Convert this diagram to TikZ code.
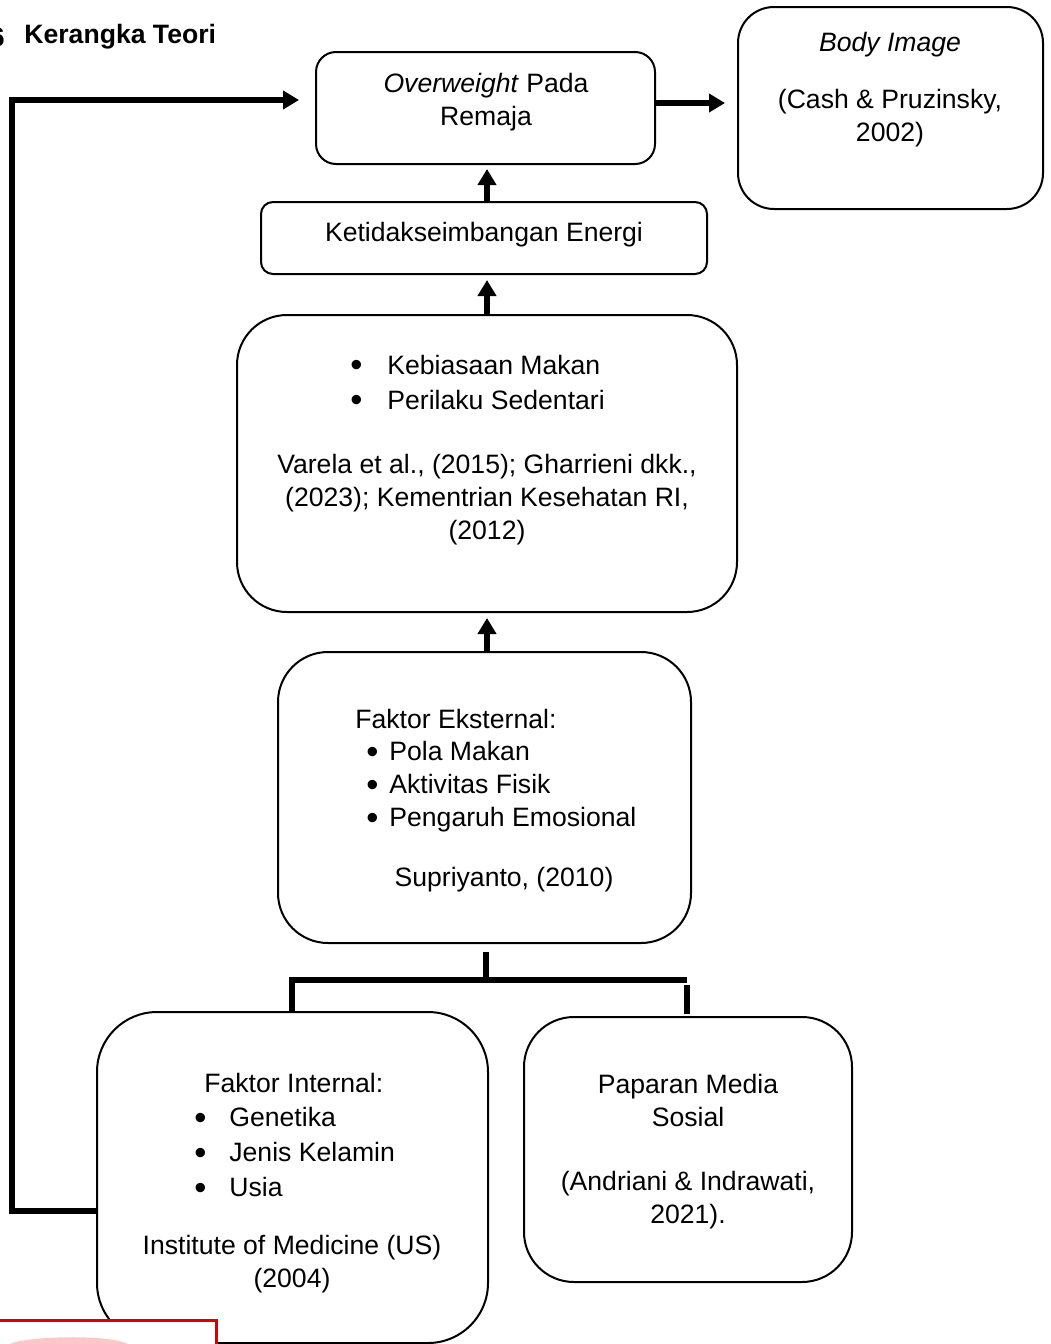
\documentclass[tikz,border=0pt]{standalone}
\usepackage{fontspec}
\setmainfont{Liberation Sans}
\usetikzlibrary{arrows.meta}

\newcommand{\blt}[1]{\makebox[#1][l]{\smash{\raisebox{-0.1em}{\scalebox{1.3}{\textbullet}}}}}

\begin{document}
\begin{tikzpicture}[x=0.5pt,y=0.5pt,yscale=-1,xscale=1,
  font=\fontsize{13.3}{16.5}\selectfont,
  box/.style={draw, line width=1pt, inner sep=0pt},
  conn/.style={line width=3pt, -{Triangle[length=8pt,width=9pt]}},
  link/.style={line width=3pt},
  txt/.style={align=center, inner sep=0pt},
  lst/.style={align=left, anchor=west, inner sep=0pt, font=\fontsize{13.3}{17.5}\selectfont}]
\useasboundingbox (0,0) rectangle (1050,1344);

% Heading
\node[anchor=east, inner sep=0pt, font=\fontsize{13.3}{16.5}\selectfont\bfseries] (num) at (5,37) {6};
\node[anchor=west, inner sep=0pt, font=\fontsize{13.3}{16.5}\selectfont\bfseries] (title) at (24,37) {Kerangka Teori};

%Rounded boxes
\node[box, rounded corners=10pt, minimum width=169.5pt, minimum height=56pt] (overw) at (485.5,108) {};
\node[box, rounded corners=18pt, minimum width=152.5pt, minimum height=101pt] (body) at (890.5,108) {};
\node[box, rounded corners=6pt, minimum width=223pt, minimum height=36pt] (ketid) at (484,238) {};
\node[box, rounded corners=25pt, minimum width=250pt, minimum height=148.5pt] (kebias) at (487,463.5) {};
\node[box, rounded corners=25pt, minimum width=206.5pt, minimum height=145.5pt] (ekst) at (484.5,797.5) {};
\node[box, rounded corners=30pt, minimum width=195.5pt, minimum height=165.5pt] (intl) at (292.5,1177.5) {};
\node[box, rounded corners=25pt, minimum width=164pt, minimum height=132.5pt] (papar) at (688,1149.5) {};

% Text Node
\node[txt] (overwT) at (486,102) {\textit{Overweight} Pada\\Remaja};
% Text Node
\node[txt] (bodyT) at (890,45) {\textit{Body Image}};
% Text Node
\node[txt] (bodyC) at (890,118) {(Cash \& Pruzinsky,\\2002)};
% Text Node
\node[txt] (ketidT) at (484,235) {Ketidakseimbangan Energi};
% Text Node
\node[lst] (kebiasL) at (350,382) {\blt{18.5pt}Kebiasaan Makan\\\blt{18.5pt}Perilaku Sedentari};
% Text Node
\node[txt] (kebiasC) at (487,500) {Varela et al., (2015); Gharrieni dkk.,\\(2023); Kementrian Kesehatan RI,\\(2012)};
% Text Node
\node[lst] (ekstH) at (355,719) {Faktor Eksternal:};
\node[lst, font=\fontsize{13.3}{16.5}\selectfont] (ekstL) at (366,787) {\blt{11.5pt}Pola Makan\\\blt{11.5pt}Aktivitas Fisik\\\blt{11.5pt}Pengaruh Emosional};
% Text Node
\node[txt] (ekstC) at (504,880) {Supriyanto, (2010)};
% Text Node
\node[lst] (intlH) at (204,1083) {Faktor Internal:};
\node[lst] (intlL) at (194,1152) {\blt{17.5pt}Genetika\\\blt{17.5pt}Jenis Kelamin\\\blt{17.5pt}Usia};
% Text Node
\node[txt] (intlC) at (292,1264) {Institute of Medicine (US)\\(2004)};
% Text Node
\node[txt] (paparT) at (688,1100) {Paparan Media\\Sosial};
% Text Node
\node[txt] (paparC) at (688,1200) {(Andriani \& Indrawati,\\2021).};

%Straight Lines
\coordinate (toBody) at (700,103);
\draw[conn, shorten >=6pt] (overw.east |- toBody) -- (body.west |- toBody);
\draw[conn, shorten >=2pt] (ketid.north -| 487,0) -- (overw.south -| 487,0);
\draw[conn, shorten >=2.5pt] (kebias.north) -- (ketid.south -| kebias.north);
\draw[conn, shorten >=2.5pt] (ekst.north -| kebias.north) -- (kebias.south);

%Bracket
\coordinate (split) at (486,980);
\coordinate (brL) at (292,980);
\coordinate (brR) at (687,980);
\draw[link, shorten <=4pt] (ekst.south -| split) -- (split);
\draw[link] (intl.north -| brL) -- (brL) -- (brR);
\draw[link, shorten <=1pt, shorten >=2.5pt] (papar.north -| brR) -- (brR);

%Feedback loop
\coordinate (loopB) at (12,1211);
\coordinate (loopT) at (12,100);
\draw[conn, shorten >=8pt] (intl.west |- loopB) -- (loopB) -- (loopT) -- (overw.west |- loopT);

%Picture edge
\draw[red!85!black, line width=1.5pt, fill=white] (-5,1320) rectangle (216,1370);
\fill[red!22] (10,1344) .. controls (25,1336) and (110,1334) .. (128,1344) -- cycle;

\end{tikzpicture}
\end{document}
